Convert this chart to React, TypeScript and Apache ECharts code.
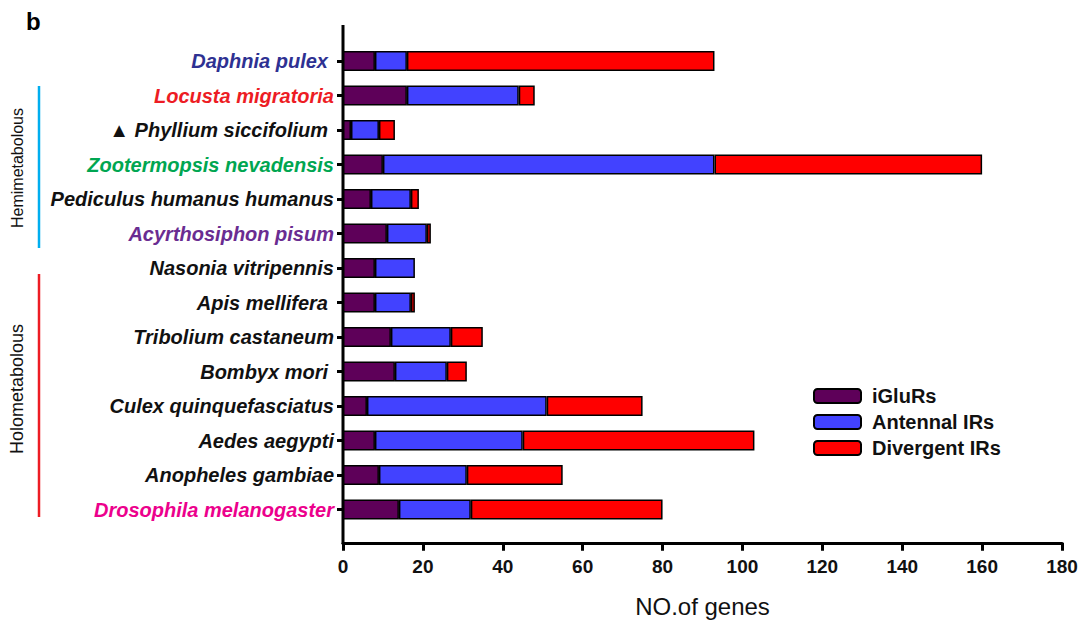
import React, { useEffect, useRef } from "react";
import * as echarts from "echarts";

const species = [
  "Daphnia pulex",
  "Locusta migratoria",
  "▲ Phyllium siccifolium",
  "Zootermopsis nevadensis",
  "Pediculus humanus humanus",
  "Acyrthosiphon pisum",
  "Nasonia vitripennis",
  "Apis mellifera",
  "Tribolium castaneum",
  "Bombyx mori",
  "Culex quinquefasciatus",
  "Aedes aegypti",
  "Anopheles gambiae",
  "Drosophila melanogaster",
];
const labelColors = [
  "#2E3192", "#ED1C24", "#111111", "#00A651", "#111111", "#6A2C91", "#111111",
  "#111111", "#111111", "#111111", "#111111", "#111111", "#111111", "#EC008C",
];
const trailingGap = [6, 0, 6, 0, 0, 0, 0, 6, 0, 6, 0, 0, 0, 0];
const iGluRs = [8, 16, 2, 10, 7, 11, 8, 8, 12, 13, 6, 8, 9, 14];
const antennalIRs = [8, 28, 7, 83, 10, 10, 10, 9, 15, 13, 45, 37, 22, 18];
const divergentIRs = [77, 4, 4, 67, 2, 1, 0, 1, 8, 5, 24, 58, 24, 48];
const xTicks = [0, 20, 40, 60, 80, 100, 120, 140, 160, 180];

const FONT = "'Liberation Sans', Arial, Helvetica, sans-serif";

export default function App() {
  const ref = useRef<HTMLDivElement>(null);
  useEffect(() => {
    document.body.style.margin = "0";
    const chart = echarts.init(ref.current!, null, { renderer: "svg" });
    const rich: Record<string, any> = {};
    species.forEach((_, i) => {
      rich["c" + i] = {
        color: labelColors[i],
        fontWeight: "bold",
        fontStyle: "italic",
        fontSize: 20,
        fontFamily: FONT,
        padding: [0, trailingGap[i], 0, 0],
      };
    });
    const mk = (name: string, data: number[], color: string) => ({
      name,
      type: "bar",
      stack: "total",
      barWidth: 20,
      data: data.map((v) => (v === 0 ? null : v)),
      itemStyle: { color, borderColor: "#000", borderWidth: 1.5 },
    });
    chart.setOption({
      animation: false,
      grid: { left: 343, right: 23, top: 43.75, height: 483 },
      xAxis: {
        type: "value",
        min: xTicks[0],
        max: xTicks[xTicks.length - 1],
        interval: 20,
        offset: 16,
        splitLine: { show: false },
        axisLine: { show: true, lineStyle: { color: "#000", width: 3 } },
        axisTick: { show: true, length: 8, lineStyle: { color: "#000", width: 3 } },
        axisLabel: {
          color: "#111",
          fontWeight: "bold",
          fontSize: 19,
          fontFamily: FONT,
          margin: 14,
        },
        name: "NO.of genes",
        nameLocation: "middle",
        nameGap: 52,
        nameTextStyle: { color: "#111", fontSize: 24, fontFamily: FONT },
      },
      yAxis: {
        type: "category",
        inverse: true,
        data: species,
        axisLine: { show: false },
        axisTick: {
          show: true,
          alignWithLabel: true,
          length: 6,
          lineStyle: { color: "#000", width: 3 },
        },
        axisLabel: {
          margin: 9,
          formatter: (v: string) => {
            const i = species.indexOf(v);
            return "{c" + i + "|" + v + "}";
          },
          rich,
        },
      },
      legend: {
        orient: "vertical",
        left: 808,
        top: 381,
        itemWidth: 47,
        itemHeight: 14,
        itemGap: 6,
        textStyle: {
          color: "#111",
          fontWeight: "bold",
          fontSize: 20,
          fontFamily: FONT,
          padding: [0, 0, 0, 6],
        },
        data: ["iGluRs", "Antennal IRs", "Divergent IRs"],
      },
      series: [
        mk("iGluRs", iGluRs, "#5E0059"),
        mk("Antennal IRs", antennalIRs, "#4242FF"),
        mk("Divergent IRs", divergentIRs, "#FF0000"),
      ],
      graphic: [
        {
          type: "line",
          shape: { x1: 343, y1: 25, x2: 343, y2: 544 },
          style: { stroke: "#000", lineWidth: 3 },
        },
        {
          type: "text",
          x: 26,
          y: 9,
          style: { text: "b", fill: "#000", fontWeight: "bold", fontSize: 24, fontFamily: FONT },
        },
        {
          type: "line",
          shape: { x1: 39, y1: 86, x2: 39, y2: 248 },
          style: { stroke: "#00AEEF", lineWidth: 2.5 },
        },
        {
          type: "line",
          shape: { x1: 39, y1: 274, x2: 39, y2: 517 },
          style: { stroke: "#ED1C24", lineWidth: 2.5 },
        },
        {
          type: "text",
          x: 17,
          y: 168,
          rotation: Math.PI / 2,
          style: {
            text: "Hemimetabolous",
            fill: "#111",
            fontSize: 16,
            fontFamily: FONT,
            align: "center",
            verticalAlign: "middle",
          },
        },
        {
          type: "text",
          x: 17,
          y: 389,
          rotation: Math.PI / 2,
          style: {
            text: "Holometabolous",
            fill: "#111",
            fontSize: 18,
            fontFamily: FONT,
            align: "center",
            verticalAlign: "middle",
          },
        },
      ],
    });
    return () => chart.dispose();
  }, []);
  return <div ref={ref} style={{ width: 1085, height: 625 }} />;
}
